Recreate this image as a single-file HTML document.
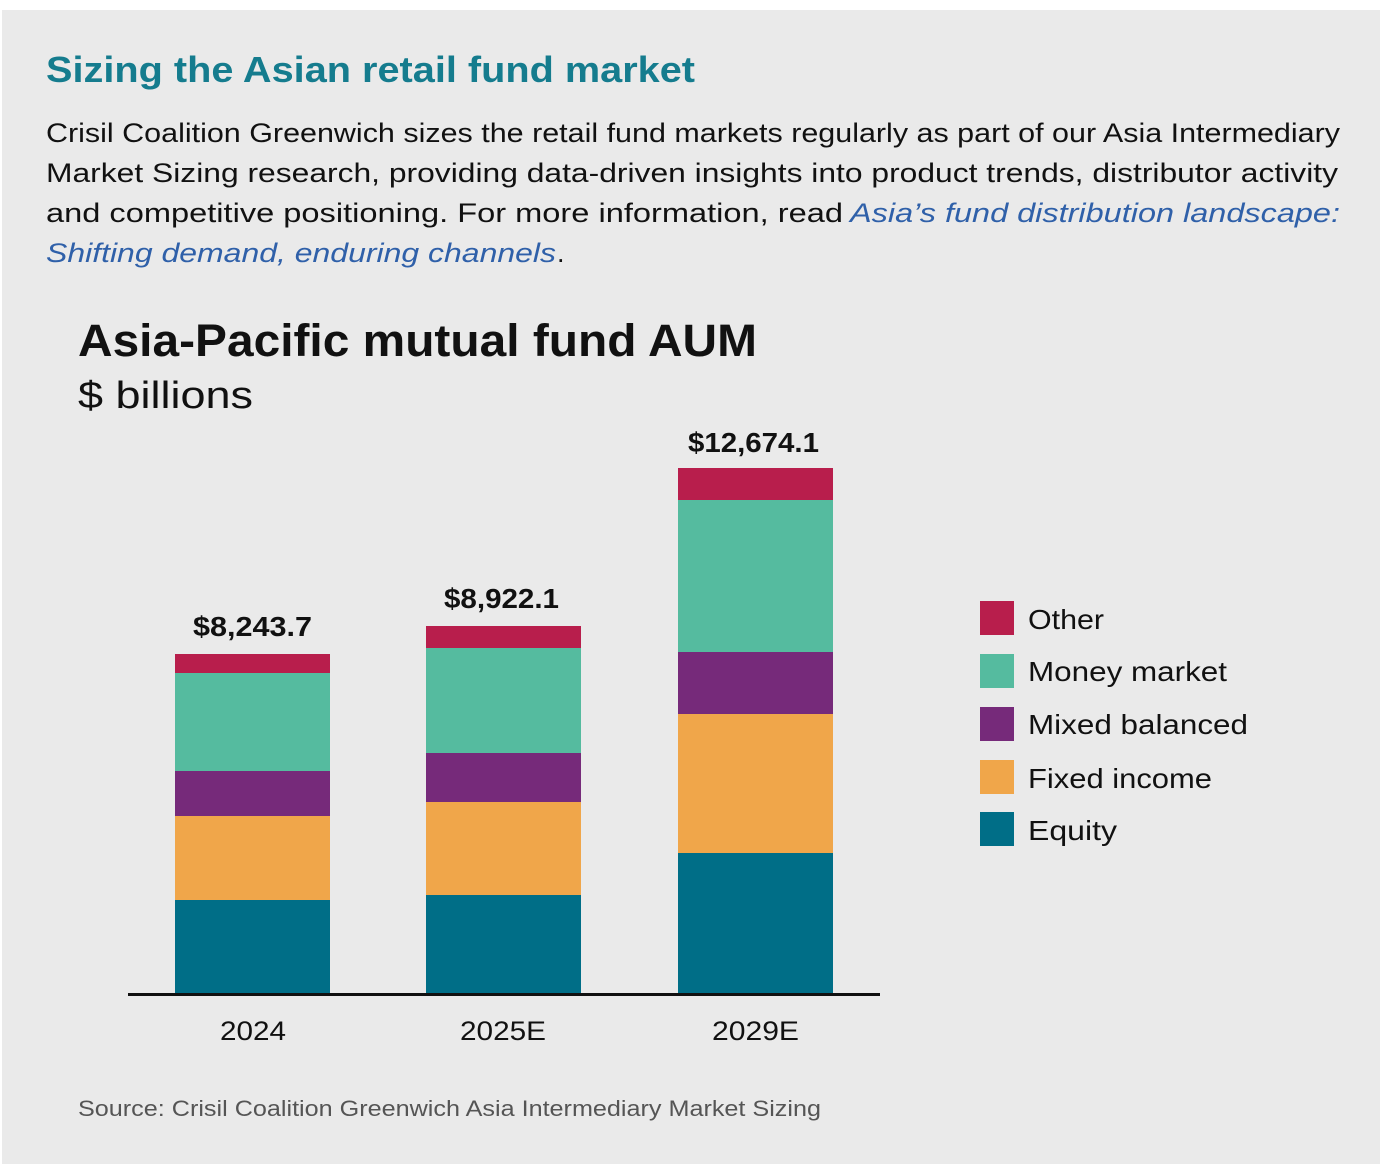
<!DOCTYPE html>
<html><head><meta charset="utf-8"><style>
html,body{margin:0;padding:0;background:#fff;}
svg{display:block;font-family:"Liberation Sans",sans-serif;}
</style></head><body>
<svg width="1382" height="1176" viewBox="0 0 1382 1176" xmlns="http://www.w3.org/2000/svg">
<rect x="0" y="0" width="1382" height="1176" fill="#fff"/>
<rect x="2" y="10" width="1378" height="1154" fill="#eaeaea"/>
<text x="46" y="82" font-size="36" font-weight="bold" fill="#157c8e" textLength="649" lengthAdjust="spacingAndGlyphs">Sizing the Asian retail fund market</text>
<g font-size="27" fill="#111">
<text x="46" y="142" textLength="1294" lengthAdjust="spacingAndGlyphs">Crisil Coalition Greenwich sizes the retail fund markets regularly as part of our Asia Intermediary</text>
<text x="46" y="182" textLength="1292" lengthAdjust="spacingAndGlyphs">Market Sizing research, providing data-driven insights into product trends, distributor activity</text>
<text x="46" y="222" textLength="797" lengthAdjust="spacingAndGlyphs">and competitive positioning. For more information, read</text>
<text x="850" y="222" textLength="490" lengthAdjust="spacingAndGlyphs" font-style="italic" fill="#2f60a9">Asia’s fund distribution landscape:</text>
<text x="46" y="262" textLength="510" lengthAdjust="spacingAndGlyphs" font-style="italic" fill="#2f60a9">Shifting demand, enduring channels</text>
<text x="557" y="262">.</text>
</g>
<text x="78" y="356" font-size="45" font-weight="bold" fill="#111" textLength="679" lengthAdjust="spacingAndGlyphs">Asia-Pacific mutual fund AUM</text>
<text x="78" y="408" font-size="38" fill="#111" textLength="175" lengthAdjust="spacingAndGlyphs">$ billions</text>
<!-- bars -->
<g>
<rect x="175" y="654" width="155" height="19" fill="#b81e4c"/>
<rect x="175" y="673" width="155" height="98" fill="#55bb9f"/>
<rect x="175" y="771" width="155" height="45" fill="#762a7a"/>
<rect x="175" y="816" width="155" height="84" fill="#f0a64a"/>
<rect x="175" y="900" width="155" height="94" fill="#006e87"/>
<rect x="426" y="626" width="155" height="22" fill="#b81e4c"/>
<rect x="426" y="648" width="155" height="105" fill="#55bb9f"/>
<rect x="426" y="753" width="155" height="49" fill="#762a7a"/>
<rect x="426" y="802" width="155" height="93" fill="#f0a64a"/>
<rect x="426" y="895" width="155" height="99" fill="#006e87"/>
<rect x="678" y="468" width="155" height="32" fill="#b81e4c"/>
<rect x="678" y="500" width="155" height="152" fill="#55bb9f"/>
<rect x="678" y="652" width="155" height="62" fill="#762a7a"/>
<rect x="678" y="714" width="155" height="139" fill="#f0a64a"/>
<rect x="678" y="853" width="155" height="141" fill="#006e87"/>
</g>
<rect x="128" y="993" width="752" height="3" fill="#111"/>
<g font-size="28" font-weight="bold" fill="#111">
<text x="193" y="636" textLength="119" lengthAdjust="spacingAndGlyphs">$8,243.7</text>
<text x="444" y="608" textLength="115" lengthAdjust="spacingAndGlyphs">$8,922.1</text>
<text x="688" y="452" textLength="131" lengthAdjust="spacingAndGlyphs">$12,674.1</text>
</g>
<g font-size="27" fill="#111">
<text x="220" y="1040" textLength="66" lengthAdjust="spacingAndGlyphs">2024</text>
<text x="460" y="1040" textLength="86" lengthAdjust="spacingAndGlyphs">2025E</text>
<text x="712" y="1040" textLength="87" lengthAdjust="spacingAndGlyphs">2029E</text>
</g>
<!-- legend -->
<g>
<rect x="980" y="601" width="34" height="34" fill="#b81e4c"/>
<rect x="980" y="654" width="34" height="34" fill="#55bb9f"/>
<rect x="980" y="707" width="34" height="34" fill="#762a7a"/>
<rect x="980" y="760" width="34" height="34" fill="#f0a64a"/>
<rect x="980" y="812" width="34" height="34" fill="#006e87"/>
</g>
<g font-size="28" fill="#111">
<text x="1028" y="629" textLength="76" lengthAdjust="spacingAndGlyphs">Other</text>
<text x="1028" y="681" textLength="199" lengthAdjust="spacingAndGlyphs">Money market</text>
<text x="1028" y="734" textLength="220" lengthAdjust="spacingAndGlyphs">Mixed balanced</text>
<text x="1028" y="788" textLength="184" lengthAdjust="spacingAndGlyphs">Fixed income</text>
<text x="1028" y="840" textLength="89" lengthAdjust="spacingAndGlyphs">Equity</text>
</g>
<text x="78" y="1116" font-size="22" fill="#555" textLength="743" lengthAdjust="spacingAndGlyphs">Source: Crisil Coalition Greenwich Asia Intermediary Market Sizing</text>
</svg>
</body></html>
